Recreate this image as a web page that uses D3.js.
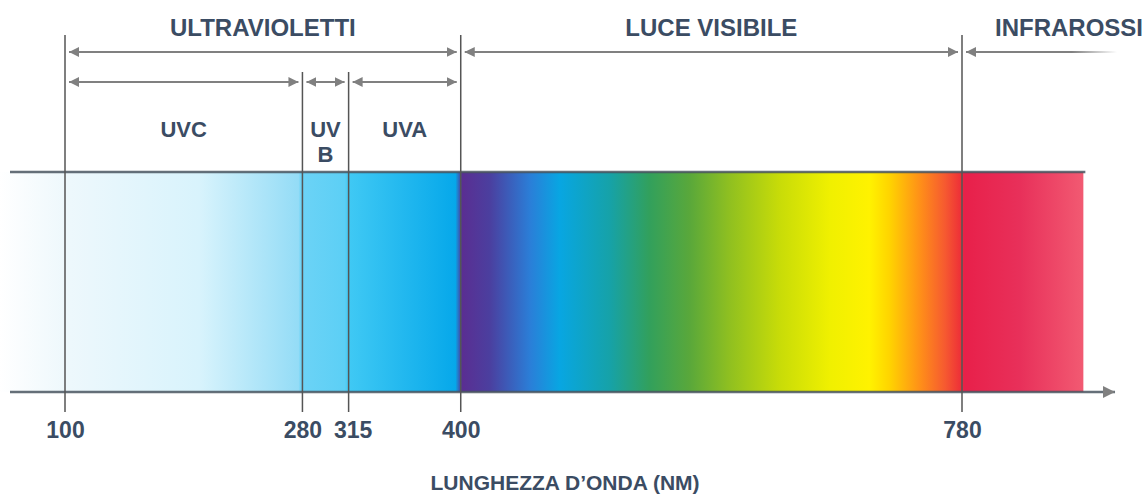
<!DOCTYPE html>
<html>
<head>
<meta charset="utf-8">
<script src="https://cdn.jsdelivr.net/npm/d3@7"></script>
<style>
    body { margin: 0; background: #fff; }
    text { font-family: "Liberation Sans", Arial, sans-serif; font-weight: bold; fill: #3b4c63; }
</style>
</head>
<body>
<script>
// boundaries on the wavelength axis (nm)
var tickValues = [100, 280, 315, 400, 780];

// main bands (top row of arrows)
var bandNames = ["ULTRAVIOLETTI", "LUCE VISIBILE", "INFRAROSSI"];
var bandFrom = [100, 400, 780];
var bandTo = [400, 780, null];

// ultraviolet sub bands (second row)
var uvNames = [["UVC"], ["UV", "B"], ["UVA"]];
var uvFrom = [100, 280, 315];
var uvTo = [280, 315, 400];

// colour of the spectrum strip, read along the wavelength
var stopNm = [50, 100, 202, 277, 279, 312, 315, 396, 401, 422, 453, 475, 513, 543, 574, 604, 642, 680, 710, 725, 748, 767, 779, 782, 824, 872];
var stopColor = ["#ffffff", "#eef8fc", "#d8f3fc", "#94dcf6", "#6cd3f6", "#5ccff5", "#40c9f4", "#06a8ea",
    "#5a2e92", "#4b3f9f", "#2a7fd8", "#08a6e2", "#16a2a8", "#32a05c", "#5aa83a", "#90c020", "#c8dc08",
    "#f0f000", "#fff200", "#ffd400", "#ff9018", "#f65a30", "#ee3038", "#e8204a", "#e8305a", "#f25a72"];

var stripStart = 50, stripEnd = 872, axisEnd = 896;

function init() {
    var w = 1147, h = 495;
    var stripTop = 172, stripBottom = 392;
    var row1 = 52, row2 = 82;
    var grey = "#808080";

    var svg = d3.select("body").append("svg").attr("width", w).attr("height", h);
    var x = d3.scaleLinear().domain([100, 780]).range([65, 962]);

    var defs = svg.append("defs");
    var grad = defs.append("linearGradient").attr("id", "spec")
        .attr("gradientUnits", "userSpaceOnUse")
        .attr("x1", x(stripStart)).attr("x2", x(stripEnd)).attr("y1", 0).attr("y2", 0);
    stopNm.forEach(function (nm, i) {
        grad.append("stop")
            .attr("offset", (nm - stripStart) / (stripEnd - stripStart))
            .attr("stop-color", stopColor[i]);
    });

    var fade = defs.append("linearGradient").attr("id", "fade");
    fade.append("stop").attr("offset", 0).attr("stop-color", grey).attr("stop-opacity", 1);
    fade.append("stop").attr("offset", 0.7).attr("stop-color", grey).attr("stop-opacity", 1);
    fade.append("stop").attr("offset", 1).attr("stop-color", grey).attr("stop-opacity", 0);

    defs.append("marker").attr("id", "head")
        .attr("viewBox", "0 0 10 10").attr("refX", 10).attr("refY", 5)
        .attr("markerWidth", 5).attr("markerHeight", 5)
        .attr("markerUnits", "strokeWidth").attr("orient", "auto-start-reverse")
        .append("path").attr("d", "M0,0L10,5L0,10Z").attr("fill", grey);

    // spectrum strip
    svg.append("rect")
        .attr("x", x(stripStart)).attr("y", stripTop)
        .attr("width", x(stripEnd) - x(stripStart)).attr("height", stripBottom - stripTop)
        .attr("fill", "url(#spec)");

    // top edge and axis
    svg.append("line")
        .attr("x1", 10).attr("x2", x(stripEnd) + 2)
        .attr("y1", stripTop).attr("y2", stripTop)
        .attr("stroke", "#4a5660").attr("stroke-width", 2.5).attr("stroke-opacity", 0.85);

    var xAxis = d3.axisBottom(x).tickValues(tickValues).tickSize(0).tickPadding(30);
    var ax = svg.append("g").attr("transform", "translate(0," + stripBottom + ")").call(xAxis);
    ax.select(".domain").remove();
    ax.selectAll("text").attr("font-size", 23).attr("font-family", null).attr("fill", null)
        .attr("dx", function (d) { return d == 315 ? 4 : 0; });
    ax.append("line")
        .attr("x1", 10).attr("x2", x(axisEnd))
        .attr("y1", 0).attr("y2", 0)
        .attr("stroke", "#4a5660").attr("stroke-width", 2.5).attr("stroke-opacity", 0.85)
        .attr("marker-end", "url(#head)");

    // vertical boundaries
    svg.selectAll("line.bound")
        .data(tickValues)
        .enter().append("line")
        .attr("class", "bound")
        .attr("x1", function (d) { return x(d); })
        .attr("x2", function (d) { return x(d); })
        .attr("y1", function (d) { return bandFrom.indexOf(d) >= 0 ? 35 : 72; })
        .attr("y2", stripBottom + 20)
        .attr("stroke", "#555").attr("stroke-width", 1.5);

    var gap = 4;

    // first row of arrows
    bandNames.forEach(function (name, i) {
        if (bandTo[i] != null) {
            svg.append("line")
                .attr("x1", x(bandFrom[i]) + gap).attr("x2", x(bandTo[i]) - gap)
                .attr("y1", row1).attr("y2", row1)
                .attr("stroke", grey).attr("stroke-width", 2)
                .attr("marker-start", "url(#head)").attr("marker-end", "url(#head)");
            svg.append("text")
                .attr("x", (x(bandFrom[i]) + x(bandTo[i])) / 2)
                .attr("y", 36)
                .attr("text-anchor", "middle")
                .attr("font-size", 24)
                .text(name);
        } else {
            svg.append("line")
                .attr("x1", x(bandFrom[i]) + gap).attr("x2", w - 30)
                .attr("y1", row1).attr("y2", row1 + 0.01)
                .attr("stroke", "url(#fade)").attr("stroke-width", 2)
                .attr("marker-start", "url(#head)");
            svg.append("text")
                .attr("x", w - 4)
                .attr("y", 36)
                .attr("text-anchor", "end")
                .attr("font-size", 24)
                .text(name);
        }
    });

    // second row of arrows (ultraviolet)
    uvNames.forEach(function (lines, i) {
        var cx = (x(uvFrom[i]) + x(uvTo[i])) / 2;
        svg.append("line")
            .attr("x1", x(uvFrom[i]) + gap).attr("x2", x(uvTo[i]) - gap)
            .attr("y1", row2).attr("y2", row2)
            .attr("stroke", grey).attr("stroke-width", 2)
            .attr("marker-start", "url(#head)").attr("marker-end", "url(#head)");
        lines.forEach(function (s, j) {
            svg.append("text")
                .attr("x", cx)
                .attr("y", 137 + j * 25)
                .attr("text-anchor", "middle")
                .attr("font-size", 22)
                .text(s);
        });
    });

    // axis title
    svg.append("text")
        .attr("x", (x(100) + x(axisEnd)) / 2 - 25)
        .attr("y", 490)
        .attr("text-anchor", "middle")
        .attr("font-size", 21)
        .text("LUNGHEZZA D\u2019ONDA (NM)");
}

window.onload = init;
</script>
</body>
</html>
